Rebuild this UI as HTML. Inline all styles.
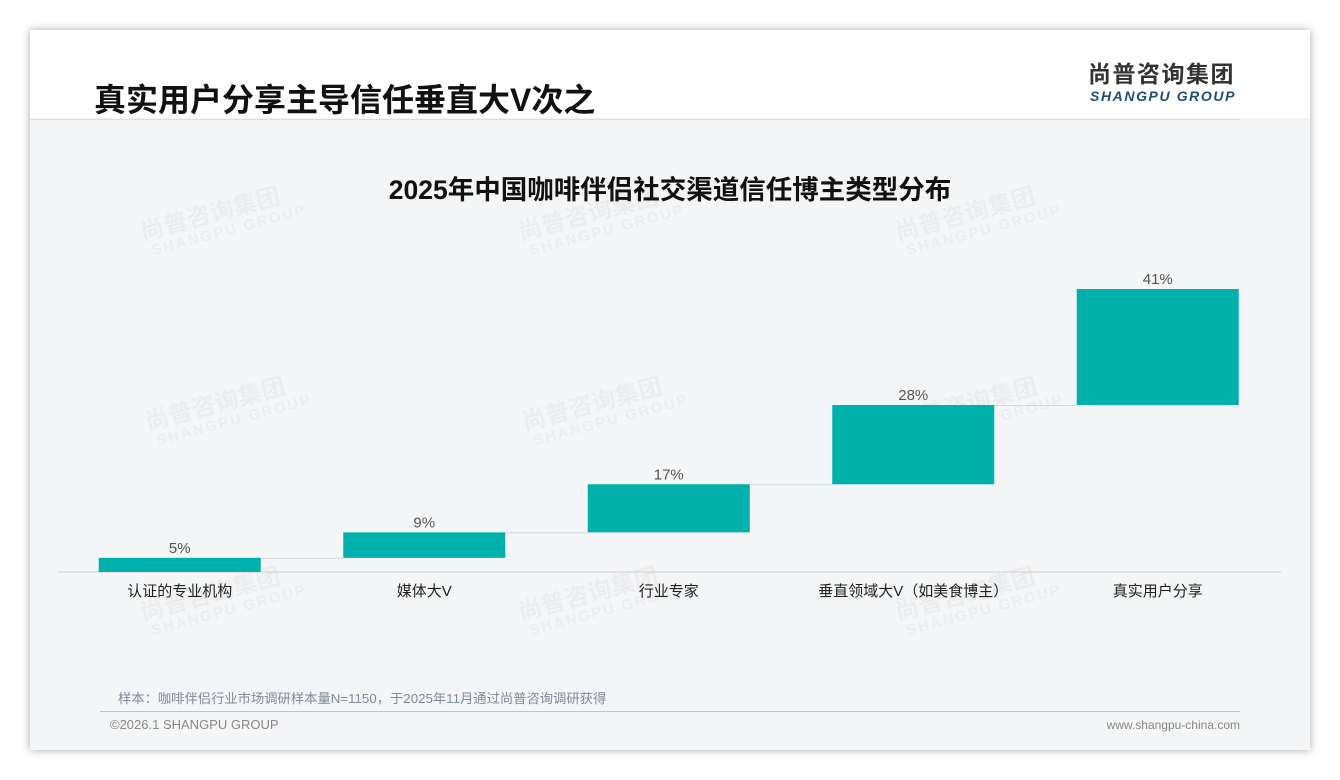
<!DOCTYPE html>
<html><head><meta charset="utf-8">
<style>
body{margin:0;width:1340px;height:780px;background:#fff;font-family:"Liberation Sans","Noto Sans CJK SC",sans-serif;position:relative;overflow:hidden}
#card{position:absolute;left:30px;top:30px;width:1280px;height:720px;background:#f4f5f6;box-shadow:0 0 8px rgba(0,0,0,.35)}
#head{position:absolute;left:0;top:0;width:1280px;height:88px;background:#fff}
.wm{position:absolute;color:rgba(0,0,0,.035);font-weight:bold;transform:rotate(-15deg);line-height:1;white-space:nowrap}
</style></head><body>
<div id="card">
<div id="head"></div>
<div style="position:absolute;left:64px;top:45px;font-size:32px;font-weight:bold;color:#111">真实用户分享主导信任垂直大V次之</div>
<div style="position:absolute;left:1058px;top:30px;font-size:23px;line-height:28px;font-weight:bold;color:#333;letter-spacing:1.5px">尚普咨询集团</div>
<div style="position:absolute;left:1060px;top:58px;font-size:14px;font-weight:bold;font-style:italic;color:#1f4e79;letter-spacing:1.6px">SHANGPU GROUP</div>
<div style="position:absolute;left:0;top:89px;width:1210px;height:1px;background:#ddd"></div>
<div style="position:absolute;left:88px;top:658px;font-size:13.3px;color:#7f8a99">样本：咖啡伴侣行业市场调研样本量N=1150，于2025年11月通过尚普咨询调研获得</div>
<div style="position:absolute;left:70px;top:681px;width:1140px;height:1px;background:#b8c6d6"></div>
<div style="position:absolute;left:80px;top:687px;font-size:13px;color:#888">©2026.1 SHANGPU GROUP</div>
<div style="position:absolute;right:70px;top:688px;font-size:12px;color:#888">www.shangpu-china.com</div>
</div>
<div id="wms"></div>
<svg id="chart" width="1340" height="780" style="position:absolute;left:0;top:0"></svg>
<script>
const categories=["认证的专业机构","媒体大V","行业专家","垂直领域大V（如美食博主）","真实用户分享"];
const values=[5,9,17,28,41];
const valueLabels=["5%","9%","17%","28%","41%"];
const NS="http://www.w3.org/2000/svg";
const svg=document.getElementById('chart');
const baseY=572,pxPer=2.83,x0=58,band=244.5,barW=162;
const y=v=>baseY-v*pxPer;
const xc=i=>x0+band*(i+0.5)-0.5;
function mk(t,a){const e=document.createElementNS(NS,t);for(const k in a)e.setAttribute(k,a[k]);svg.appendChild(e);return e;}
const title=mk('text',{x:670,y:199,'text-anchor':'middle','font-size':26.5,'font-weight':'bold',fill:'#111'});


title.textContent="2025年中国咖啡伴侣社交渠道信任博主类型分布";
const ax=mk('line',{x1:58,x2:1281,y1:baseY,y2:baseY,stroke:'#d0d0d0','stroke-width':1});


let cum=0;
values.forEach((v,i)=>{
  const start=cum,end=cum+v;cum=end;
  const cx=xc(i);
  if(i<values.length-1){
    const c=mk('line',{x1:cx+barW/2,x2:xc(i+1)-barW/2,y1:y(end)+.5,y2:y(end)+.5,stroke:'#d8d8d8','stroke-width':1});
    
    
  }
  const r=mk('rect',{x:cx-barW/2,y:y(end),width:barW,height:v*pxPer,fill:'#00b0aa'});
  
  
  const t=mk('text',{x:cx,y:y(end)-5,'text-anchor':'middle','font-size':15,fill:'#555'});
  
  
  t.textContent=valueLabels[i];
  const c=mk('text',{x:cx,y:596,'text-anchor':'middle','font-size':15,fill:'#222'});
  
  
  c.textContent=categories[i];
});
const wms=document.getElementById('wms');
[[140,200],[518,200],[895,200],[145,390],[522,390],[897,390],[140,580],[518,580],[895,580]].forEach(p=>{
  const d=document.createElement('div');d.className='wm';
  
  
  d.style.left=p[0]+'px';d.style.top=p[1]+'px';
  d.innerHTML='<div style="font-size:24px">尚普咨询集团</div><div style="font-size:15px;letter-spacing:2px;margin-left:6px">SHANGPU GROUP</div>';
  wms.appendChild(d);
});
</script>
</body></html>
